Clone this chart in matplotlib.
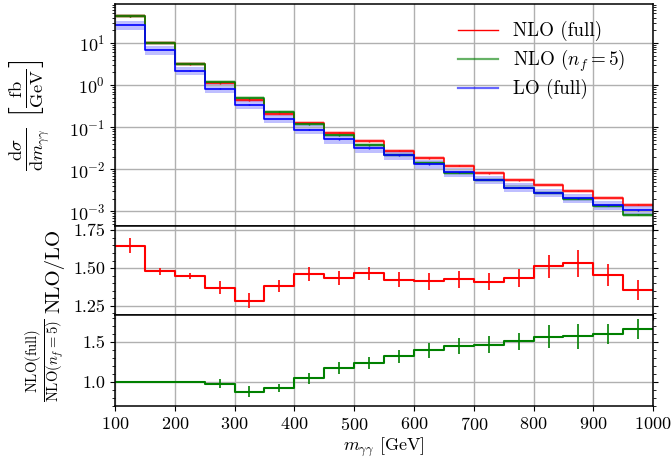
import numpy as np
import matplotlib
matplotlib.use('Agg')
import matplotlib.pyplot as plt
from matplotlib.lines import Line2D
from matplotlib.ticker import MultipleLocator, LogLocator, NullFormatter

plt.rcParams['font.family'] = 'serif'
plt.rcParams['font.serif'] = ['cmr10', 'DejaVu Serif']
plt.rcParams['mathtext.fontset'] = 'cm'
plt.rcParams['axes.formatter.use_mathtext'] = True
plt.rcParams['font.size'] = 13

# bin edges in m_gamma_gamma [GeV]
edges = [100, 150, 200, 250, 300, 350, 400, 450, 500, 550,
         600, 650, 700, 750, 800, 850, 900, 950, 1000]

# dsigma/dm [fb/GeV]
nlo_full = [42.7, 10.0, 3.1, 1.11, 0.434, 0.21, 0.126, 0.0734, 0.0458, 0.0276,
            0.0182, 0.0122, 0.00805, 0.0055, 0.00427, 0.00308, 0.00207, 0.00144]
nlo_nf5 = [42.7, 10.0, 3.19, 1.16, 0.484, 0.234, 0.118, 0.0636, 0.0369, 0.0218,
           0.0139, 0.0082, 0.0056, 0.00369, 0.00276, 0.00199, 0.00134, 0.00083]
lo_full = [26.6, 6.8, 2.18, 0.82, 0.343, 0.157, 0.088, 0.051, 0.0313, 0.0215,
           0.0131, 0.0085, 0.0056, 0.00369, 0.00276, 0.00203, 0.00139, 0.00106]

# relative scale-uncertainty bands (up, down)
nlo_band = (0.12, 0.10)
lo_band = (0.26, 0.22)
stat_err = 0.02

# NLO/LO ratio
ratio_nlo_lo = [1.647, 1.478, 1.445, 1.371, 1.283, 1.384, 1.461, 1.436, 1.465,
                1.423, 1.412, 1.425, 1.410, 1.432, 1.511, 1.531, 1.452, 1.355]
ratio_nlo_lo_err = [0.05, 0.025, 0.02, 0.045, 0.05, 0.04, 0.045, 0.045, 0.045,
                    0.048, 0.055, 0.057, 0.058, 0.06, 0.078, 0.088, 0.073, 0.068]

# NLO(full)/NLO(nf=5) ratio
ratio_full_nf5 = [1.0, 0.996, 0.996, 0.979, 0.876, 0.923, 1.047, 1.179, 1.239,
                  1.32, 1.397, 1.457, 1.466, 1.513, 1.568, 1.573, 1.603, 1.667]
ratio_full_nf5_err = [0.003, 0.003, 0.004, 0.058, 0.07, 0.053, 0.068, 0.077, 0.073,
                      0.085, 0.098, 0.1, 0.107, 0.107, 0.147, 0.16, 0.124, 0.124]

edges = np.array(edges)
centers = 0.5 * (edges[:-1] + edges[1:])


def step_vals(v):
    v = np.asarray(v, dtype=float)
    return np.append(v, v[-1])


fig = plt.figure(figsize=(6.72, 4.65), dpi=100)
gs = fig.add_gridspec(3, 1, height_ratios=[222, 89, 91], hspace=0,
                      left=0.171, right=0.972, top=0.991, bottom=0.127)
ax1 = fig.add_subplot(gs[0])
ax2 = fig.add_subplot(gs[1], sharex=ax1)
ax3 = fig.add_subplot(gs[2], sharex=ax1)

series = [(nlo_full, 'red', nlo_band, 'NLO (full)'),
          (nlo_nf5, 'green', nlo_band, r'NLO ($n_f=5$)'),
          (lo_full, 'blue', lo_band, 'LO (full)')]
for vals, col, band, lab in series:
    v = np.asarray(vals)
    ax1.fill_between(edges, step_vals(v * (1 - band[1])), step_vals(v * (1 + band[0])),
                     step='post', color=col, alpha=0.25, lw=0)
    ax1.step(edges, step_vals(v), where='post', color=col, lw=1.2)
    ax1.errorbar(centers, v, yerr=v * stat_err, fmt='none', ecolor=col, lw=1)

handles = [Line2D([], [], color='red', lw=1.0),
           Line2D([], [], color='green', lw=1.6, alpha=0.6),
           Line2D([], [], color='blue', lw=1.6, alpha=0.6)]

ax1.set_yscale('log')
ax1.set_ylim(4.5e-4, 83)
ax1.yaxis.set_major_locator(LogLocator(base=10, numticks=10))
ax1.yaxis.set_minor_locator(LogLocator(base=10, subs=np.arange(2, 10), numticks=20))
ax1.yaxis.set_minor_formatter(NullFormatter())
ax1.set_ylabel(r'$\frac{\mathrm{d}\sigma}{\mathrm{d}m_{\gamma\gamma}}\ \left[\frac{\mathrm{fb}}{\mathrm{GeV}}\right]$',
               fontsize=19)
ax1.legend(handles, [s[3] for s in series], loc='upper right', frameon=False,
           fontsize=13.7, labelspacing=0.3, handlelength=2.1,
           bbox_to_anchor=(0.98, 1.0))

# middle ratio
ax2.step(edges, step_vals(ratio_nlo_lo), where='post', color='red', lw=1.5)
ax2.errorbar(centers, ratio_nlo_lo, yerr=ratio_nlo_lo_err, fmt='none', ecolor='red', lw=1.2)
ax2.set_ylim(1.19, 1.778)
ax2.yaxis.set_major_locator(MultipleLocator(0.25))
ax2.yaxis.set_minor_locator(MultipleLocator(0.05))
ax2.yaxis.set_major_formatter(plt.FormatStrFormatter('%.2f'))
ax2.set_ylabel('NLO/LO', fontsize=15)

# bottom ratio
ax3.step(edges, step_vals(ratio_full_nf5), where='post', color='green', lw=1.5)
ax3.errorbar(centers, ratio_full_nf5, yerr=ratio_full_nf5_err, fmt='none', ecolor='green', lw=1.2)
ax3.set_ylim(0.70, 1.84)
ax3.yaxis.set_major_locator(MultipleLocator(0.5))
ax3.yaxis.set_minor_locator(MultipleLocator(0.1))
ax3.yaxis.set_major_formatter(plt.FormatStrFormatter('%.1f'))
ax3.set_ylabel(r'$\frac{\mathrm{NLO(full)}}{\mathrm{NLO}(n_f=5)}$', fontsize=15)

ax3.set_xlim(100, 1000)
ax3.xaxis.set_major_locator(MultipleLocator(100))
ax3.set_xlabel(r'$m_{\gamma\gamma}$ [GeV]', fontsize=13, labelpad=2)

for ax in (ax1, ax2, ax3):
    ax.grid(True, which='major', color='#b0b0b0', lw=1)
    ax.tick_params(which='both', direction='out', left=True, right=True, labelsize=13)
    for sp in ax.spines.values():
        sp.set_linewidth(1.1)
for ax in (ax1, ax2):
    ax.tick_params(labelbottom=False)

ax1.yaxis.set_label_coords(-0.115, 0.5)
ax2.yaxis.set_label_coords(-0.093, 0.5)
ax3.yaxis.set_label_coords(-0.089, 0.5)

fig.savefig('out.png', dpi=100)
